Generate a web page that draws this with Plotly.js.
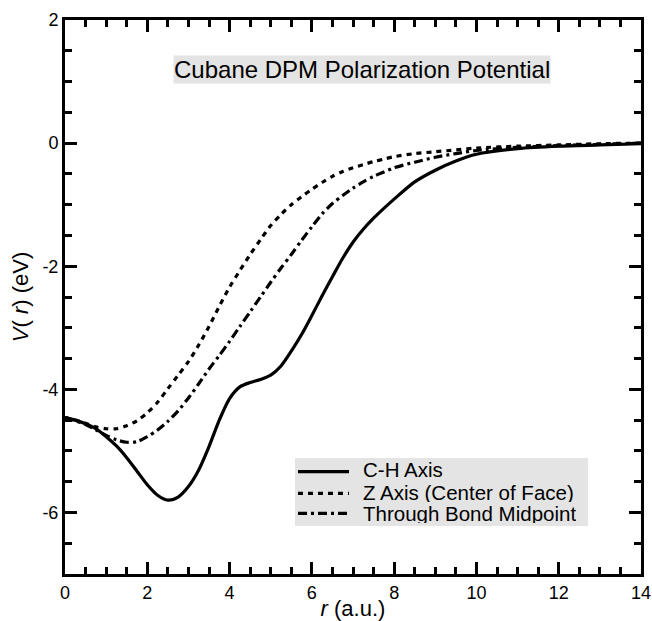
<!DOCTYPE html>
<html>
<head>
<meta charset="utf-8">
<script src="https://cdn.plot.ly/plotly-3.0.1.min.js"></script>
<style>html,body{margin:0;padding:0;background:#fff;}#chart{width:652px;height:621px;}</style>
</head>
<body>
<div id="chart"></div>
<script>
// r (a.u.)
const r = [0, 0.25, 0.5, 0.75, 1.0, 1.25, 1.5, 1.75, 2.0, 2.25, 2.5, 2.75, 3.0, 3.25, 3.5, 3.75,
           4.0, 4.25, 4.5, 4.75, 5.0, 5.25, 5.5, 5.75, 6.0, 6.25, 6.5, 6.75, 7.0, 7.25, 7.5, 7.75,
           8.0, 8.5, 9.0, 9.5, 10, 11, 12, 13, 14];
// V(r) in eV
const vCH = [-4.46, -4.50, -4.56, -4.64, -4.77, -4.92, -5.11, -5.33, -5.55, -5.72, -5.80, -5.75, -5.58, -5.31, -4.93, -4.50,
             -4.15, -3.96, -3.89, -3.84, -3.77, -3.62, -3.38, -3.11, -2.80, -2.48, -2.17, -1.87, -1.61, -1.40, -1.22, -1.06,
             -0.91, -0.63, -0.44, -0.29, -0.18, -0.09, -0.05, -0.03, -0.01];
const vZ = [-4.46, -4.50, -4.55, -4.61, -4.64, -4.64, -4.59, -4.51, -4.38, -4.21, -3.99, -3.77, -3.55, -3.28, -2.98, -2.65,
            -2.34, -2.07, -1.81, -1.57, -1.34, -1.16, -1.00, -0.87, -0.75, -0.64, -0.54, -0.46, -0.40, -0.35, -0.30, -0.26,
            -0.22, -0.17, -0.14, -0.11, -0.08, -0.05, -0.03, -0.01, 0];
const vBond = [-4.46, -4.51, -4.57, -4.66, -4.75, -4.82, -4.86, -4.85, -4.77, -4.66, -4.52, -4.35, -4.14, -3.91, -3.67, -3.45,
               -3.22, -2.98, -2.74, -2.50, -2.26, -2.03, -1.81, -1.58, -1.36, -1.15, -0.98, -0.85, -0.73, -0.63, -0.54, -0.47,
               -0.40, -0.31, -0.23, -0.17, -0.12, -0.07, -0.04, -0.02, 0];

const seriesNames = ['C-H Axis', 'Z Axis (Center of Face)', 'Through Bond Midpoint'];
const chartTitle = 'Cubane DPM Polarization Potential';
const xTickVals = [0, 2, 4, 6, 8, 10, 12, 14];
const xTickLabels = ['0', '2', '4', '6', '8', '10', '12', '14'];
const yTickVals = [2, 0, -2, -4, -6];
const yTickLabels = ['2', '0', '-2', '-4', '-6'];

const FONT = 'Liberation Sans, Arial, Helvetica, sans-serif';
const dashes = ['solid', '5px,5px', '9px,4px,3px,4px'];

const traces = [vCH, vZ, vBond].map((v, i) => ({
  x: r, y: v, name: seriesNames[i], mode: 'lines', showlegend: false,
  line: {color: '#000', width: 3.2, dash: dashes[i], shape: 'spline', smoothing: 0.8}
}));

const axisCommon = {
  showgrid: false, zeroline: false, showline: true, linecolor: '#000', linewidth: 3,
  mirror: 'allticks', ticks: 'inside', ticklen: 12, tickwidth: 3, tickcolor: '#000',
  tickfont: {family: FONT, size: 18, color: '#000'}
};

// manual legend (gray box, line samples, labels) in paper coordinates
const legRowY = [0.1880, 0.1480, 0.1100];
const legLineY = [0.1847, 0.1457, 0.1096];
const shapes = [{
  type: 'rect', xref: 'paper', yref: 'paper', x0: 0.3993, x1: 0.908, y0: 0.0866, y1: 0.2094,
  fillcolor: '#e4e4e4', line: {width: 0}, layer: 'below'
}];
const annotations = [{
  x: 0.5156, y: 0.9107, xref: 'paper', yref: 'paper', xanchor: 'center', yanchor: 'middle', showarrow: false,
  text: chartTitle, bgcolor: '#e4e4e4', borderpad: 0,
  font: {family: FONT, size: 24, color: '#000'}
}];
seriesNames.forEach((name, i) => {
  shapes.push({type: 'line', xref: 'paper', yref: 'paper', x0: 0.4045, x1: 0.4931,
    y0: legLineY[i], y1: legLineY[i], line: {color: '#000', width: 3.2, dash: dashes[i]}});
  annotations.push({x: 0.514, y: legRowY[i], xref: 'paper', yref: 'paper', xanchor: 'left', yanchor: 'middle',
    showarrow: false, text: name, height: 19, valign: 'middle', font: {family: FONT, size: 20.5, color: '#000'}});
});

const layout = {
  width: 652, height: 621,
  margin: {l: 65, r: 11, t: 20, b: 47},
  paper_bgcolor: '#fff', plot_bgcolor: '#fff',
  showlegend: false,
  xaxis: Object.assign({}, axisCommon, {
    range: [0, 14], tickvals: xTickVals, ticktext: xTickLabels,
    minor: {dtick: 0.5, ticks: 'inside', ticklen: 7, tickwidth: 3, tickcolor: '#000'},
    title: {text: '<i>r</i> (a.u.)', font: {family: FONT, size: 22, color: '#000'}, standoff: 0}
  }),
  yaxis: Object.assign({}, axisCommon, {
    range: [-7, 2], tickvals: yTickVals, ticktext: yTickLabels,
    minor: {dtick: 0.5, ticks: 'inside', ticklen: 7, tickwidth: 3, tickcolor: '#000'},
    title: {text: '<i>V</i>( <i>r</i>) (eV)', font: {family: FONT, size: 22, color: '#000'}, standoff: 8}
  }),
  shapes: shapes,
  annotations: annotations
};

Plotly.newPlot('chart', traces, layout, {displayModeBar: false, staticPlot: true});
</script>
</body>
</html>
